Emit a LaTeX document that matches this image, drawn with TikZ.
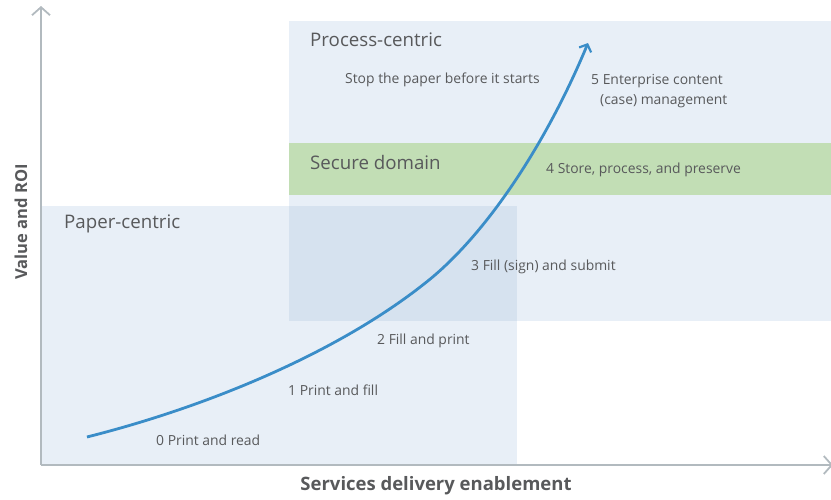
\documentclass[tikz,border=0pt]{standalone}
\usepackage{fontspec}
\setmainfont{Open Sans}
\usetikzlibrary{arrows.meta}
\definecolor{lightbg}{HTML}{E8EFF7}
\definecolor{overlapbg}{HTML}{D6E2EF}
\definecolor{greenbg}{HTML}{C2DEB5}
\definecolor{axisgray}{HTML}{B2BABF}
\definecolor{curveblue}{HTML}{3A8DC8}
\definecolor{txtgray}{HTML}{58595B}
\tikzset{
  title/.style={anchor=west, inner sep=0pt, text=txtgray, font=\fontsize{18.7}{21}\selectfont},
  lbl/.style={anchor=west, inner sep=0pt, text=txtgray, font=\fontsize{13.9}{16}\selectfont},
  axislbl/.style={inner sep=0pt, text=txtgray, font=\fontsize{18.5}{21}\selectfont\bfseries},
  axisline/.style={draw=axisgray, line width=2.6pt, -{Straight Barb[length=8pt,width=18pt,line width=1.8pt]}},
  curve/.style={draw=curveblue, line width=2.8pt, -{Straight Barb[length=6pt,width=13pt,line width=2.2pt]}}
}
\begin{document}
\begin{tikzpicture}[x=1pt,y=-1pt]
\useasboundingbox (0,0) rectangle (831,499);
% zones
\fill[lightbg] (41,206) rectangle (517,465);
\fill[lightbg] (289,21) rectangle (831,321);
\fill[greenbg] (289,143) rectangle (831,195);
\fill[overlapbg] (289,206) rectangle (517,321);
% axes
\coordinate (origin) at (41,465);
\coordinate (ytop) at (41,6);
\coordinate (xend) at (833,465);
\draw[axisline] (origin) -- (ytop);
\draw[axisline] (origin) -- (xend);
% curve
\coordinate (cstart) at (87,437);
\coordinate (cmid) at (424,284);
\coordinate (cend) at (588,43);
\draw[curve] (cstart) .. controls (210,406) and (338,352) .. (cmid)
  .. controls (486,236) and (547,142) .. (cend);
% titles
\node[title] (proc) at (310,40) {Process-centric};
\node[title] (sec) at (310,162) {Secure domain};
\node[title] (paper) at (64,224) {Paper-centric};
% labels
\node[lbl] (stop) at (345,80) {Stop the paper before it starts};
\node[lbl] (l5a) at (591,81) {5 Enterprise content};
\node[lbl] (l5b) at (600,101) {(case) management};
\node[lbl] (l4) at (546,170) {4 Store, process, and preserve};
\node[lbl] (l3) at (471,267) {3 Fill (sign) and submit};
\node[lbl] (l2) at (377,341) {2 Fill and print};
\node[lbl] (l1) at (288,390) {1 Print and fill};
\node[lbl] (l0) at (156,440) {0 Print and read};
% axis labels
\node[axislbl] (xlab) at (436,486) {Services delivery enablement};
\node[axislbl, rotate=90, font=\fontsize{16.5}{19}\selectfont\bfseries] (ylab) at (21,222) {Value and ROI};
\end{tikzpicture}
\end{document}
